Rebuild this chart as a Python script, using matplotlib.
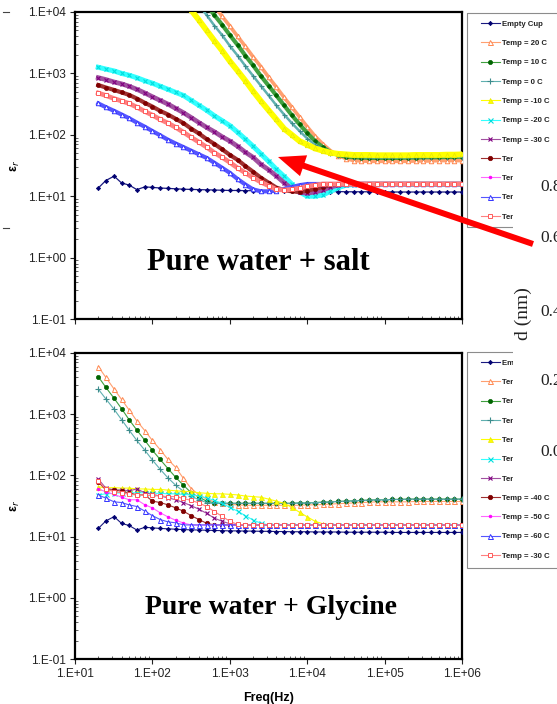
import matplotlib
matplotlib.use('Agg')
import matplotlib.pyplot as plt
from matplotlib.lines import Line2D
from matplotlib.patches import Rectangle, FancyArrow
from matplotlib.ticker import LogLocator, NullFormatter
from matplotlib.transforms import Bbox

plt.rcParams['font.family'] = ['Liberation Sans', 'DejaVu Sans']

# ---------------- data ----------------
freq = [20, 25, 32, 40, 50, 63, 80, 100, 126, 159,
        200, 252, 317, 399, 502, 632, 796, 1002, 1262, 1589,
        2000, 2518, 3170, 3991, 5024, 6325, 7962, 10024, 12619, 15887,
        20000, 25179, 31698, 39905, 50238, 63246, 79621, 100237, 126191, 158866,
        200000, 251785, 316979, 399052, 502377, 632456, 796214, 1000000]

labels = ['Empty Cup', 'Temp = 20 C', 'Temp = 10 C', 'Temp = 0 C', 'Temp = -10 C',
          'Temp = -20 C', 'Temp = -30 C', 'Temp = -40 C', 'Temp = -50 C',
          'Temp = -60 C', 'Temp = -30 C']

empty_cup = [13.6, 18.0, 21.2, 16.4, 15.2, 12.8, 14.2, 13.9, 13.6, 13.4,
             13.2, 13.0, 12.9, 12.8, 12.7, 12.6, 12.5, 12.4, 12.4, 12.3,
             12.3, 12.2, 12.2, 12.1, 12.1, 12.0, 12.0, 12.0, 11.9, 11.9,
             11.9, 11.9, 11.8, 11.8, 11.8, 11.8, 11.8, 11.8, 11.7, 11.7,
             11.7, 11.7, 11.7, 11.7, 11.7, 11.7, 11.7, 11.7]

# upper panel: pure water + salt
salt_20 = [3.7e6, 2.6e6, 1.7e6, 1.2e6, 8.1e5, 5.6e5, 3.8e5, 2.6e5, 1.8e5, 1.23e5,
           8.3e4, 5.8e4, 3.9e4, 2.7e4, 1.8e4, 1.26e4, 8500, 5900, 4000, 2750,
           1860, 1290, 870, 600, 407, 282, 195, 135, 95, 71,
           55, 46, 41, 38, 37.5, 37, 37, 37, 37, 37,
           37, 37.5, 37.5, 37.5, 38, 38, 38, 38]
salt_10 = [2.7e6, 1.8e6, 1.26e6, 8.5e5, 5.9e5, 4.0e5, 2.75e5, 1.86e5, 1.29e5, 8.7e4,
           6.0e4, 4.1e4, 2.8e4, 1.9e4, 1.3e4, 8900, 6200, 4200, 2900, 1950,
           1350, 910, 630, 437, 302, 209, 148, 107, 79, 63,
           52, 47, 44, 43, 42.5, 42, 42, 42, 42, 42,
           42.5, 42.5, 43, 43, 43, 43.5, 43.5, 44]
salt_0 = [1.8e6, 1.24e6, 8.5e5, 5.8e5, 4.0e5, 2.7e5, 1.86e5, 1.26e5, 8.7e4, 5.9e4,
          4.1e4, 2.8e4, 1.9e4, 1.3e4, 8900, 6000, 4200, 2800, 1950, 1320,
          910, 630, 437, 302, 214, 155, 115, 87, 69, 58,
          50, 47, 45, 44, 43.5, 43, 43, 43, 43, 43,
          43, 43.5, 43.5, 43.5, 44, 44, 44, 44]
salt_m10 = [1.0e6, 7.1e5, 4.8e5, 3.3e5, 2.2e5, 1.55e5, 1.05e5, 7.2e4, 4.9e4, 3.4e4,
            2.3e4, 1.58e4, 1.07e4, 7400, 5000, 3400, 2350, 1580, 1100, 760,
            513, 355, 251, 178, 126, 100, 79, 69, 60, 55,
            51, 49, 48, 47, 47, 47, 46.5, 46.5, 46.5, 46.5,
            46.5, 47, 47, 47, 47, 47.5, 47.5, 48]
salt_m20 = [1259, 1175, 1096, 1000, 933, 851, 759, 692, 617, 550,
            490, 437, 363, 302, 251, 204, 170, 141, 110, 85,
            65, 49, 37, 27.5, 21, 15.8, 11.7, 10.0, 10.0, 10.5,
            12.0, 13.8, 15.1, 15.5, 15.5, 15.6, 15.6, 15.6, 15.6, 15.6,
            15.6, 15.6, 15.6, 15.6, 15.6, 15.6, 15.6, 15.6]
salt_m30 = [851, 794, 724, 676, 617, 550, 479, 417, 363, 316,
            269, 229, 191, 158, 132, 112, 93, 79, 65, 52,
            43, 33, 27, 21.4, 16.6, 13.2, 11.5, 11.2, 11.7, 12.6,
            14.1, 15.1, 15.8, 15.8, 15.8, 15.8, 15.8, 15.8, 15.8, 15.8,
            15.8, 15.8, 15.8, 15.8, 15.8, 15.8, 15.8, 15.8]
salt_m40 = [646, 589, 537, 490, 447, 389, 331, 288, 245, 214,
            182, 155, 126, 105, 85, 71, 58, 47, 39, 31,
            25, 20, 16.6, 13.8, 12.6, 12.0, 11.7, 12.3, 13.2, 14.1,
            15.1, 15.8, 15.8, 15.8, 15.8, 15.8, 15.8, 15.8, 15.8, 15.8,
            15.8, 15.8, 15.8, 15.8, 15.8, 15.8, 15.8, 15.8]
salt_m60 = [324, 282, 245, 214, 186, 158, 135, 115, 98, 83,
            72, 63, 55, 48, 42, 35, 29, 24, 19, 15.5,
            12.9, 12.0, 12.0, 12.3, 13.2, 14.1, 15.1, 15.8, 15.8, 15.8,
            15.8, 15.8, 15.8, 15.8, 15.8, 15.8, 15.8, 15.8, 15.8, 15.8,
            15.8, 15.8, 15.8, 15.8, 15.8, 15.8, 15.8, 15.8]
salt_m30b = [479, 437, 389, 355, 324, 282, 240, 209, 178, 155,
             132, 110, 91, 76, 63, 51, 43, 35.5, 28.8, 24,
             20, 17, 14.8, 12.9, 12.6, 12.9, 13.5, 14.5, 15.1, 15.8,
             15.8, 15.8, 15.8, 15.8, 15.8, 15.8, 15.8, 15.8, 15.8, 15.8,
             15.8, 15.8, 15.8, 15.8, 15.8, 15.8, 15.8, 15.8]

# lower panel: pure water + glycine
gly_20 = [6000, 4000, 2570, 1740, 1175, 776, 537, 372, 263, 182,
          135, 89, 61, 48, 41, 37, 35, 33.5, 33, 32.5,
          32.5, 32.5, 32.5, 32.5, 32.5, 32.5, 32.5, 33, 33, 33.5,
          34, 34.5, 35, 35.5, 36, 36.5, 37, 37, 37, 37,
          37, 37.5, 37.5, 37.5, 37.5, 37.5, 37.5, 37.5]
gly_10 = [4100, 2750, 1820, 1230, 813, 550, 372, 257, 182, 129,
          93, 69, 52, 44, 38, 35.5, 35, 35, 35, 35,
          35, 35, 35, 35, 35, 35, 35.5, 35.5, 36, 36.5,
          37, 37.5, 38, 38.5, 39, 39.5, 40, 40, 40.5, 40.5,
          41, 41, 41, 41, 41, 41, 41, 41]
gly_0 = [2570, 1780, 1200, 813, 550, 372, 257, 178, 126, 91,
         69, 55, 46, 40, 36, 35, 35, 35, 35, 35,
         35, 35, 35, 35, 35, 35, 35.5, 35.5, 36, 36.5,
         37, 37.5, 38, 38.5, 39, 39.5, 40, 40, 40.5, 40.5,
         41, 41, 41, 41, 41, 41, 41, 41]
gly_m10 = [65, 63, 63, 62, 62, 60, 60, 59, 59, 57.5,
           56, 55, 54, 52, 51, 50, 50, 49, 48, 46,
           45, 44, 41, 38, 35, 30, 25, 21, 17.8, 16.2,
           15.5, 15.5, 15.5, 15.5, 15.5, 15.5, 15.5, 15.5, 15.5, 15.5,
           15.5, 15.5, 15.5, 15.5, 15.5, 15.5, 15.5, 15.5]
gly_m20 = [48, 50, 51, 52, 52, 52, 52, 51, 51, 50,
           50, 49, 48, 46, 43, 39, 35, 30, 26, 22,
           18.6, 16.6, 15.5, 15.5, 15.5, 15.5, 15.5, 15.5, 15.5, 15.5,
           15.5, 15.5, 15.5, 15.5, 15.5, 15.5, 15.5, 15.5, 15.5, 15.5,
           15.5, 15.5, 15.5, 15.5, 15.5, 15.5, 15.5, 15.5]
gly_m30 = [87, 62, 58, 58, 56, 60, 52, 49, 46, 43,
           40, 36, 32, 28, 24, 20, 17.8, 16.2, 15.5, 15.5,
           15.5, 15.5, 15.5, 15.5, 15.5, 15.5, 15.5, 15.5, 15.5, 15.5,
           15.5, 15.5, 15.5, 15.5, 15.5, 15.5, 15.5, 15.5, 15.5, 15.5,
           15.5, 15.5, 15.5, 15.5, 15.5, 15.5, 15.5, 15.5]
gly_m40 = [78, 58, 58, 55, 52, 48, 48, 38, 36, 33,
           29.5, 26, 22, 19, 16.5, 15.5, 15.5, 15.5, 15.5, 15.5,
           15.5, 15.5, 15.5, 15.5, 15.5, 15.5, 15.5, 15.5, 15.5, 15.5,
           15.5, 15.5, 15.5, 15.5, 15.5, 15.5, 15.5, 15.5, 15.5, 15.5,
           15.5, 15.5, 15.5, 15.5, 15.5, 15.5, 15.5, 15.5]
gly_m50 = [60, 54, 49, 44, 40, 40, 33, 29.5, 24.5, 21,
           18.5, 16.7, 15.5, 15.5, 15.5, 15.5, 15.5, 15.5, 15.5, 15.5,
           15.5, 15.5, 15.5, 15.5, 15.5, 15.5, 15.5, 15.5, 15.5, 15.5,
           15.5, 15.5, 15.5, 15.5, 15.5, 15.5, 15.5, 15.5, 15.5, 15.5,
           15.5, 15.5, 15.5, 15.5, 15.5, 15.5, 15.5, 15.5]
gly_m60 = [48, 42.5, 37, 36, 33, 31, 26, 22, 19, 17.4,
           16.8, 15.5, 15.5, 15.5, 15.5, 15.5, 15.5, 15.5, 15.5, 15.5,
           15.5, 15.5, 15.5, 15.5, 15.5, 15.5, 15.5, 15.5, 15.5, 15.5,
           15.5, 15.5, 15.5, 15.5, 15.5, 15.5, 15.5, 15.5, 15.5, 15.5,
           15.5, 15.5, 15.5, 15.5, 15.5, 15.5, 15.5, 15.5]
gly_m30b = [81, 60, 54, 52, 49, 48, 47, 47, 46, 45,
            45, 42, 39, 35.5, 31, 25.7, 21.4, 17.8, 15.8, 15.5,
            15.5, 15.5, 15.5, 15.5, 15.5, 15.5, 15.5, 15.5, 15.5, 15.5,
            15.5, 15.5, 15.5, 15.5, 15.5, 15.5, 15.5, 15.5, 15.5, 15.5,
            15.5, 15.5, 15.5, 15.5, 15.5, 15.5, 15.5, 15.5]

ytick_vals = [0.1, 1, 10, 100, 1000, 10000]
ytick_labels = ['1.E-01', '1.E+00', '1.E+01', '1.E+02', '1.E+03', '1.E+04']
xtick_vals = [10, 100, 1000, 10000, 100000, 1000000]
xtick_labels = ['1.E+01', '1.E+02', '1.E+03', '1.E+04', '1.E+05', '1.E+06']

# ---------------- styles ----------------
styles = [
    dict(color='#1a1a80', marker='D', ms=2.2, mfc='#000070', mec='#000070', mew=0.5),
    dict(color='#FFA070', marker='^', ms=3.6, mfc='white', mec='#FF8850', mew=0.7),
    dict(color='#40A040', marker='o', ms=3.0, mfc='#006400', mec='#006400', mew=0.5),
    dict(color='#60B0B0', marker='+', ms=4.0, mfc='#3C8C8C', mec='#3C8C8C', mew=0.8),
    dict(color='#FFFF00', marker='^', ms=3.6, mfc='#FFFF00', mec='#E8E800', mew=0.5),
    dict(color='#33FFFF', marker='x', ms=3.6, mfc='#00DDDD', mec='#00DDDD', mew=0.8),
    dict(color='#A050A0', marker='x', ms=3.4, mfc='#800080', mec='#800080', mew=0.8),
    dict(color='#A03030', marker='o', ms=3.2, mfc='#800000', mec='#800000', mew=0.5),
    dict(color='#FF66FF', marker='o', ms=2.0, mfc='#FF00FF', mec='#FF00FF', mew=0.5),
    dict(color='#5555FF', marker='^', ms=3.6, mfc='white', mec='#3333FF', mew=0.7),
    dict(color='#FF8080', marker='s', ms=3.4, mfc='white', mec='#FF5A5A', mew=0.7),
]

W, H = 557, 704
fig = plt.figure(figsize=(W / 100, H / 100), dpi=100)
fig.patch.set_facecolor('white')


def px_axes(l, t, r, b):
    return [l / W, 1 - b / H, (r - l) / W, (b - t) / H]


def style_axes(ax, show_xlabels):
    ax.set_xscale('log')
    ax.set_yscale('log')
    ax.set_xlim(10, 1e6)
    ax.set_ylim(0.1, 1e4)
    ax.set_yticks(ytick_vals, ytick_labels)
    ax.set_xticks(xtick_vals, xtick_labels if show_xlabels else [''] * 6)
    ax.yaxis.set_minor_locator(LogLocator(base=10, subs=range(2, 10), numticks=20))
    ax.xaxis.set_minor_locator(LogLocator(base=10, subs=range(2, 10), numticks=20))
    ax.yaxis.set_minor_formatter(NullFormatter())
    ax.xaxis.set_minor_formatter(NullFormatter())
    ax.tick_params(which='major', direction='out', length=3.5, width=0.8,
                   labelsize=8.6, pad=3, colors='#222222')
    ax.tick_params(which='minor', direction='in', length=2.5, width=0.6, colors='#444444')
    for s in ax.spines.values():
        s.set_linewidth(1.6)
        s.set_color('black')
    ax.set_ylabel('ε$_r$', fontsize=9, fontweight='bold')
    ax.yaxis.set_label_coords(-0.137, 0.5)


ax1 = fig.add_axes(px_axes(75, 12, 462, 319))
ax2 = fig.add_axes(px_axes(75, 353, 462, 659))
style_axes(ax1, False)
style_axes(ax2, True)
ax2.set_xlabel('Freq(Hz)', fontsize=9, fontweight='bold')
ax2.xaxis.set_label_coords(0.5, -0.108)

salt_series = [empty_cup, salt_20, salt_10, salt_0, salt_m10, salt_m20, salt_m30,
               salt_m40, None, salt_m60, salt_m30b]
salt_lw = [0.9, 2.6, 3.0, 1.8, 4.2, 3.6, 3.4, 3.0, 0, 3.0, 3.4]
for i, ys in enumerate(salt_series):
    if ys is None:
        continue
    st = dict(styles[i])
    if i == 0:
        ax1.plot(freq, ys, lw=salt_lw[i], zorder=3, **st)
    else:
        st['ms'] = st['ms'] * 0.9
        ax1.plot(freq, ys, lw=salt_lw[i], zorder=3 + i, **st)

gly_series = [empty_cup, gly_20, gly_10, gly_0, gly_m10, gly_m20, gly_m30,
              gly_m40, gly_m50, gly_m60, gly_m30b]
for i, ys in enumerate(gly_series):
    ax2.plot(freq, ys, lw=0.8, zorder=3 + i, **styles[i])

# legends (frame drawn separately, partly hidden by the overlaid figure)
COVER_L, COVER_T, COVER_B = 513, 151, 489
handles = [Line2D([], [], lw=0.8, **st) for st in styles]
for ax, top in ((ax1, 13), (ax2, 352)):
    lg = ax.legend(handles, labels, loc='upper left',
                   bbox_to_anchor=(481 / W, 1 - (top + 7.5) / H),
                   bbox_transform=fig.transFigure, frameon=False,
                   borderpad=0, borderaxespad=0, handlelength=2.4, handletextpad=0.25,
                   labelspacing=1.52, prop=dict(size=5.6, weight='bold'))
    for k, t in enumerate(lg.get_texts()):
        t.set_color('#222222')
        row_y = top + 10 + 19.4 * k
        if COVER_T - 6 < row_y < COVER_B + 6:
            t.set_clip_box(Bbox.from_extents(0, 0, COVER_L, H))
            t.set_clip_on(True)

ov = fig.add_axes([0, 0, 1, 1], zorder=10)
ov.set_xlim(0, W)
ov.set_ylim(H, 0)
ov.axis('off')
ov.patch.set_alpha(0)
ov.add_patch(Rectangle((467, 13), 120, 214, fill=False, ec='#8c8c8c', lw=0.8))
ov.add_patch(Rectangle((467, 352), 120, 216, fill=False, ec='#8c8c8c', lw=0.8))
ov.add_patch(Rectangle((COVER_L, COVER_T), 50, COVER_B - COVER_T, fc='white', ec='none'))
for txt, y in (('0.8', 187), ('0.6', 238), ('0.4', 312), ('0.2', 381), ('0.0', 452)):
    ov.text(540, y, txt, family='Liberation Serif', fontsize=12.5, ha='left', va='center',
            color='#222222')
ov.text(523, 314, 'd (nm)', family='Liberation Serif', fontsize=14, rotation=90,
        ha='center', va='center', color='#222222')
ov.plot([3, 9], [12, 12], color='#444444', lw=0.8)
ov.plot([3, 9], [228, 228], color='#444444', lw=0.8)

ov.add_patch(FancyArrow(533, 244, 278 - 533, 157 - 244, width=6, head_width=22,
                        head_length=27, length_includes_head=True, color='#FF0000', lw=0))

ov.text(258, 262, 'Pure water + salt', family='Liberation Serif', fontweight='bold',
        fontsize=22, ha='center', va='center')
ov.text(271, 608, 'Pure water + Glycine', family='Liberation Serif', fontweight='bold',
        fontsize=20, ha='center', va='center')

fig.savefig('out.png', dpi=100, facecolor='white')
